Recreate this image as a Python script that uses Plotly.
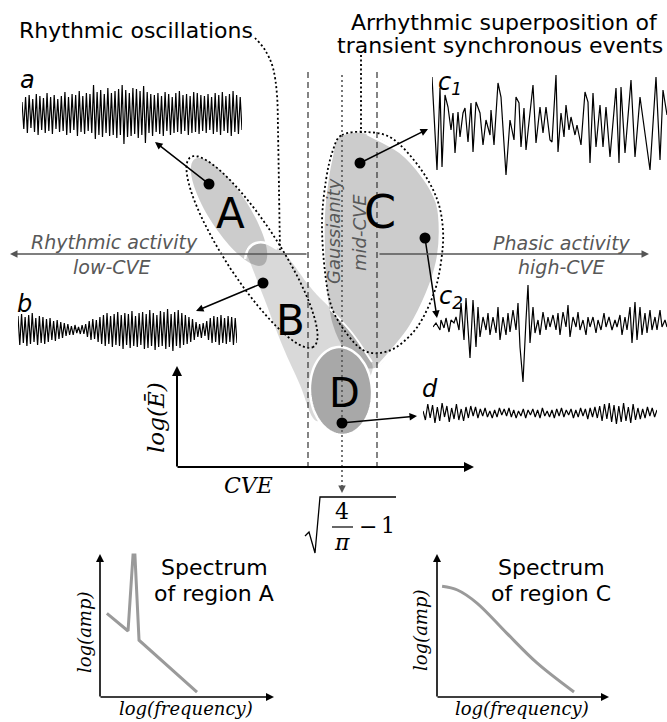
import numpy as np
import plotly.graph_objects as go

W, H = 667, 722

# ---------------- data ----------------
# (a) rhythmic trace: peak / trough amplitude of each successive cycle
a_peaks = [12, 17, 19, 15, 20, 18, 16, 21, 17, 19, 15,
           18, 22, 17, 20, 19, 23, 18, 21, 20,
           29, 22, 24, 20, 26, 21, 23, 25, 29, 24, 21, 26, 25, 23, 28, 22, 20,
           19, 21, 18, 22, 20, 17, 21, 23, 19, 20, 18, 22, 21, 19,
           18, 20, 17, 21, 19, 22, 18, 20, 23, 19, 17]
a_troughs = [15, 19, 14, 18, 21, 16, 19, 17, 20, 15, 18,
             17, 21, 19, 16, 22, 18, 20, 17, 19,
             25, 21, 23, 19, 22, 21, 24, 21, 30, 23, 22, 20, 24, 21, 29, 19, 22,
             18, 20, 22, 17, 21, 19, 18, 20, 17, 21, 19, 18, 20, 17,
             19, 16, 20, 18, 21, 17, 19, 22, 18, 20, 16]

# (b) waxing / waning rhythmic trace
b_peaks = [14, 16, 13, 15, 17, 12, 14, 13,
           11, 12, 9, 10, 8, 7, 6,
           4, 5, 3, 5, 6,
           9, 11, 10, 13,
           15, 17, 14, 16, 18, 15, 17, 16, 19, 14, 17, 18, 16, 20, 17, 15, 19, 18, 21, 16, 18, 20, 17, 15, 13, 11,
           8, 6, 7, 9,
           12, 14, 13, 15, 12, 14, 13, 12]
b_troughs = [15, 13, 16, 14, 12, 15, 13, 14,
             12, 10, 11, 9, 8, 6, 5,
             5, 3, 4, 4, 7,
             10, 9, 12, 14,
             16, 14, 17, 15, 16, 19, 15, 18, 16, 17, 15, 19, 18, 16, 20, 17, 16, 19, 17, 21, 16, 18, 15, 14, 12, 10,
             7, 8, 6, 10,
             13, 12, 15, 13, 14, 12, 15, 13]

# (c1) arrhythmic trace: sample times and values
c1_t = [0, 3, 5, 8, 10, 13, 16, 19, 21, 23, 26, 28, 31, 33, 36, 39, 41, 44, 48, 51,
        54, 58, 59, 62, 66, 69, 71, 74, 78, 80, 82, 84, 87, 89, 92, 94, 101, 104, 108, 111,
        114, 118, 120, 124, 126, 129, 132, 134, 137, 139, 143, 145, 149, 153, 156, 158, 161, 164, 168, 171,
        174, 178, 184, 187, 189, 193, 199, 203, 208, 218, 224, 228, 231, 235]
c1_v = [48, -5, -45, 37, -42, 30, 18, -5, 12, -28, 13, -12, 12, 17, -17, 22, -27, 23, 12, -20,
        5, -10, 15, -20, 42, 28, -2, -50, 5, -5, -15, 28, 22, -22, 17, -25, 40, -18, 18, -8,
        18, -15, -17, 50, -27, 12, -12, 20, -5, 8, -10, 0, -20, 33, 23, -38, 32, -22, 20, -22,
        18, -32, 37, -38, 38, -28, 45, -32, 28, -45, 48, -35, 35, 10]

# (c2) arrhythmic trace with a large transient
c2_t = [0, 3, 7, 8, 11, 13, 16, 18, 21, 23, 26, 28, 31, 33, 37, 40, 43, 45, 47, 50,
        53, 55, 57, 60, 63, 65, 67, 70, 73, 75, 77, 80, 83, 85, 87, 90, 93, 95, 97, 100,
        102, 105, 107, 110, 113, 115, 117, 120, 123, 125, 127, 130, 133, 135, 137, 140, 143, 145, 147, 150,
        153, 155, 157, 160, 163, 165, 168, 171, 173, 176, 179, 182, 184, 187, 189, 192, 194, 197, 199, 202,
        204, 207, 209, 212, 214, 217, 219, 222, 224, 227, 229, 232, 234]
c2_v = [-5, -1, -8, 2, -6, 4, -10, 2, -1, 5, -8, 19, -18, 24, -36, 22, -25, 15, -15, 5,
        -8, 9, -13, 5, -11, 15, -18, 5, -13, 9, -10, 12, -8, 19, -25, -60, 2, 37, -21, 15,
        -11, 2, -13, 10, -8, 5, -5, 7, -8, 9, -13, 10, -5, 17, -15, 5, -5, 10, -8, 2,
        -13, 5, -5, 5, -11, 2, -8, 9, -5, 5, -8, 2, -5, 7, -13, 5, -8, 15, -21, 20,
        -18, 15, -13, 9, -11, 12, -8, 5, -8, 12, -5, 2, -5]

# (d) low-energy noise trace
d_v = [2, -7, 9, -5, 8, -10, 6, -8, 10, -4, 7, -9, 5, -6, 9, -7, 4, -8, 6, -5, 7, -3, 6, -5, 4,
       -3, 5, -4, 2, -5, 3, -4, 5, -2, 4, -3, 5, -4, 3, -5, 2, -3, 4, -5, 3, -2, 4, -4, 3, -5,
       5, -3, 2, -4, 3, -5, 4, -3, 5, -4, 3, -2, 4, -5, 3, -4, 5, -3, 4, -6, 5, -4, 6, -5, 7,
       -8, 9, -6, 10, -9, 8, -11, 7, -9, 10, -8, 6, -10, 9, -7, 5,
       -6, 4, -5, 6, -3, 5, -4, 3]

# spectra (log-frequency, log-amplitude)
spec_a_logf = [0.04, 0.163, 0.192, 0.203, 0.227, 0.564]
spec_a_logamp = [0.59, 0.465, 1.0, 1.0, 0.40, 0.035]
spec_c_logf = [0.03, 0.12, 0.235, 0.41, 0.588, 0.806]
spec_c_logamp = [0.78, 0.754, 0.662, 0.45, 0.24, 0.035]

a_vals = [v for hi, lo in zip(a_peaks, a_troughs) for v in (hi, -lo)]
b_vals = [v for hi, lo in zip(b_peaks, b_troughs) for v in (hi, -lo)]

# ---------------- helpers ----------------
def ellipse_path(cx, cy, a, b, ang_deg, n=90):
    t = np.linspace(0, 2 * np.pi, n)
    ca, sa = np.cos(np.radians(ang_deg)), np.sin(np.radians(ang_deg))
    xs = cx + a * np.cos(t) * ca - b * np.sin(t) * sa
    ys = cy + a * np.cos(t) * sa + b * np.sin(t) * ca
    d = f"M{xs[0]:.1f},{ys[0]:.1f}" + "".join(f" L{x:.1f},{y:.1f}" for x, y in zip(xs[1:], ys[1:]))
    return d + " Z"


def smooth_path(pts, closed=True):
    P = np.array(pts, float)
    n = len(P)
    if closed:
        get = lambda i: P[i % n]
        segs = range(n)
    else:
        get = lambda i: P[min(max(i, 0), n - 1)]
        segs = range(n - 1)
    d = f"M{P[0][0]:.1f},{P[0][1]:.1f}"
    for i in segs:
        p0, p1, p2, p3 = get(i - 1), get(i), get(i + 1), get(i + 2)
        c1 = p1 + (p2 - p0) / 6.0
        c2 = p2 - (p3 - p1) / 6.0
        d += f" C{c1[0]:.1f},{c1[1]:.1f} {c2[0]:.1f},{c2[1]:.1f} {p2[0]:.1f},{p2[1]:.1f}"
    return d + (" Z" if closed else "")


layout = dict(
    width=W, height=H, margin=dict(l=0, r=0, t=0, b=0),
    paper_bgcolor="white", plot_bgcolor="rgba(0,0,0,0)", showlegend=False,
    xaxis=dict(domain=[0, 1], range=[0, W], visible=False, fixedrange=True),
    yaxis=dict(domain=[0, 1], range=[H, 0], visible=False, fixedrange=True),
)


def panel(k, px0, px1, xr, py0, py1, yr):
    layout[f"xaxis{k}"] = dict(domain=[px0 / W, px1 / W], range=xr, visible=False,
                               fixedrange=True, anchor=f"y{k}")
    layout[f"yaxis{k}"] = dict(domain=[1 - py1 / H, 1 - py0 / H], range=yr, visible=False,
                               fixedrange=True, anchor=f"x{k}")


panel(2, 22, 242, [0, len(a_vals) - 1], 82, 146, [-32, 32])
panel(3, 18, 237, [0, len(b_vals) - 1], 308, 352, [-22, 22])
panel(4, 432, 667, [0, 235], 73, 177, [-52, 52])
panel(5, 433, 667, [0, 234], 260, 384, [-62, 62])
panel(6, 423, 657, [0, len(d_v) - 1], 399, 427, [-14, 14])
panel(7, 100, 272, [0, 1], 548, 697, [0, 1.05])
panel(8, 437, 607, [0, 1], 548, 697, [0, 1.05])

fig = go.Figure()
trace_line = dict(color="black", width=1.2)
fig.add_trace(go.Scatter(x=list(range(len(a_vals))), y=a_vals, mode="lines", line=trace_line,
                         xaxis="x2", yaxis="y2", hoverinfo="skip"))
fig.add_trace(go.Scatter(x=list(range(len(b_vals))), y=b_vals, mode="lines", line=trace_line,
                         xaxis="x3", yaxis="y3", hoverinfo="skip"))
fig.add_trace(go.Scatter(x=c1_t, y=c1_v, mode="lines", line=trace_line,
                         xaxis="x4", yaxis="y4", hoverinfo="skip"))
fig.add_trace(go.Scatter(x=c2_t, y=c2_v, mode="lines", line=trace_line,
                         xaxis="x5", yaxis="y5", hoverinfo="skip"))
fig.add_trace(go.Scatter(x=list(range(len(d_v))), y=d_v, mode="lines", line=trace_line,
                         xaxis="x6", yaxis="y6", hoverinfo="skip"))
fig.add_trace(go.Scatter(x=spec_a_logf, y=spec_a_logamp, mode="lines",
                         line=dict(color="#9a9a9a", width=3), xaxis="x7", yaxis="y7", hoverinfo="skip"))
fig.add_trace(go.Scatter(x=spec_c_logf, y=spec_c_logamp, mode="lines",
                         line=dict(color="#9a9a9a", width=3, shape="spline"),
                         xaxis="x8", yaxis="y8", hoverinfo="skip"))

# ---------------- schematic regions ----------------
shapes = []


def add_path(d, fill=None, color=None, width=0, dash=None):
    s = dict(type="path", path=d, xref="x", yref="y", layer="below",
             line=dict(color=color or "rgba(0,0,0,0)", width=width))
    if dash:
        s["line"]["dash"] = dash
    if fill:
        s["fillcolor"] = fill
    shapes.append(s)


def add_line(x0, y0, x1, y1, color, width, dash=None):
    s = dict(type="line", x0=x0, y0=y0, x1=x1, y1=y1, xref="x", yref="y", layer="below",
             line=dict(color=color, width=width))
    if dash:
        s["line"]["dash"] = dash
    shapes.append(s)


tail_pts = [(255, 243), (270, 245), (285, 254), (307, 283), (320, 298), (334, 312), (352, 334),
            (368, 356), (372, 372), (355, 400), (325, 418), (313, 418), (300, 385), (283, 347),
            (264, 298), (250, 262), (246, 250)]
c_fill_pts = [(340, 137), (367, 134), (400, 152), (423, 177), (437, 203), (440, 232), (437, 262),
              (427, 293), (410, 327), (392, 350), (377, 367), (362, 366), (345, 350), (333, 325),
              (327, 290), (325, 250), (325, 215), (328, 185), (333, 157)]
c_dot_pts = [(342, 135), (367, 132), (393, 139), (420, 168), (437, 199), (443, 230), (441, 262),
             (434, 293), (418, 326), (398, 346), (380, 353), (363, 350), (347, 334), (332, 308),
             (325, 272), (322, 222), (326, 180), (333, 150)]

add_path(smooth_path(tail_pts), fill="rgba(0,0,0,0.15)")
add_path(ellipse_path(229, 212, 63, 20, 57), fill="rgba(0,0,0,0.2)")
add_path(smooth_path(c_fill_pts), fill="rgba(0,0,0,0.2)")
add_path(smooth_path([(245, 259), (248, 249), (256, 243), (266, 243), (277, 249)], closed=False),
         color="white", width=2.5)
add_path(smooth_path([(330, 309), (352, 333), (372, 362)], closed=False), color="white", width=2)
add_path(smooth_path(c_fill_pts[1:11], closed=False), color="white", width=2.5)
add_path(ellipse_path(341, 391, 31, 44, -4), fill="rgb(168,168,168)", color="white", width=2.5)

dotted = "2px,2.5px"
add_path(ellipse_path(252, 252, 113, 27, 57), color="black", width=1.8, dash=dotted)
add_path(smooth_path(c_dot_pts), color="black", width=1.8, dash=dotted)
add_path(smooth_path([(255, 38), (265, 50), (273, 68), (277, 95), (278, 130), (279, 190), (280, 250)],
                     closed=False), color="black", width=1.8, dash=dotted)
add_line(361, 55, 361, 133, "black", 1.8, dotted)

add_line(308, 72, 308, 467, "#333333", 1.2, "6px,4px")
add_line(377, 72, 377, 467, "#333333", 1.2, "6px,4px")
add_line(342, 75, 342, 486, "#555555", 1.6, "2px,3px")

# square-root sign of the Gaussian CVE value
add_path("M305,536 L309,532 L315,553 L320,497 L396,497", color="black", width=1.3)
add_line(332, 527, 353, 527, "black", 1.2)

layout["shapes"] = shapes

# sample points inside the regions
dot_x = [209, 263, 360, 425, 342]
dot_y = [184, 283, 163, 238, 423]
fig.add_trace(go.Scatter(x=dot_x, y=dot_y, mode="markers", xaxis="x", yaxis="y",
                         marker=dict(color="black", size=11), hoverinfo="skip"))

# ---------------- annotations ----------------
ann = []
SANS = "DejaVu Sans"
SERIF = "DejaVu Serif"


def text(x, y, s, size, color="black", family=SANS, angle=0):
    ann.append(dict(x=x, y=y, xref="x", yref="y", text=s, showarrow=False, textangle=angle,
                    font=dict(family=family, size=size, color=color),
                    xanchor="center", yanchor="middle"))


def arrow(x0, y0, x1, y1, color="black", width=1.5, size=1.0):
    ann.append(dict(x=x1, y=y1, ax=x0, ay=y0, xref="x", yref="y", axref="x", ayref="y",
                    text="", showarrow=True, arrowhead=2, arrowsize=size, arrowwidth=width,
                    arrowcolor=color, standoff=0, startstandoff=0))


# arrows from region points to the example traces
tip_x = [155, 196, 428, 437, 417]
tip_y = [142, 311, 129, 318, 416]
for x0, y0, x1, y1 in zip(dot_x, dot_y, tip_x, tip_y):
    arrow(x0, y0, x1, y1)

# activity axes
arrow(308, 254, 10, 254, color="#555555", width=1.5)
arrow(378, 254, 649, 254, color="#555555", width=1.5)
arrow(342, 484, 342, 493, color="#555555", width=1.5)

# log(E) / CVE axes
arrow(177, 468, 177, 366, width=2)
arrow(176, 467, 474, 467, width=2)
# spectrum axes
arrow(100, 698, 100, 554, width=1.6)
arrow(99, 697, 274, 697, width=1.6)
arrow(437, 698, 437, 554, width=1.6)
arrow(436, 697, 609, 697, width=1.6)

GRAY = "#585858"
text(136, 30, "Rhythmic oscillations", 22)
text(504, 22, "Arrhythmic superposition of", 22)
text(500, 45, "transient synchronous events", 22)

text(27, 80, "<i>a</i>", 24)
text(24, 304, "<i>b</i>", 24)
text(450, 83, "<i>c<sub>1</sub></i>", 24)
text(451, 297, "<i>c<sub>2</sub></i>", 24)
text(430, 389, "<i>d</i>", 24)

text(114, 242, "<i>Rhythmic activity</i>", 19, GRAY)
text(112, 267, "<i>low-CVE</i>", 19, GRAY)
text(562, 243, "<i>Phasic activity</i>", 19, GRAY)
text(561, 267, "<i>high-CVE</i>", 19, GRAY)
text(333, 231, "<i>Gaussianity</i>", 18, GRAY, angle=-90)
text(359, 233, "<i>mid-CVE</i>", 18, GRAY, angle=-90)

text(230, 213, "A", 42)
text(290, 320, "B", 42)
text(380, 212, "C", 46)
text(344, 393, "D", 40)

text(156, 418, "<i>log(Ē)</i>", 23, family=SERIF, angle=-90)
text(248, 485, "<i>CVE</i>", 22, family=SERIF)

text(342, 511, "4", 22, family=SERIF)
text(342, 542, "<i>π</i>", 22, family=SERIF)
text(368, 526, "−", 22, family=SERIF)
text(388, 525, "1", 22, family=SERIF)

text(214, 567, "Spectrum", 22)
text(214, 593, "of region A", 22)
text(551, 567, "Spectrum", 22)
text(551, 593, "of region C", 22)

text(84, 633, "<i>log(amp)</i>", 18, family=SERIF, angle=-90)
text(186, 708, "<i>log(frequency)</i>", 18, family=SERIF)
text(420, 631, "<i>log(amp)</i>", 18, family=SERIF, angle=-90)
text(522, 708, "<i>log(frequency)</i>", 18, family=SERIF)

layout["annotations"] = ann
fig.update_layout(**layout)
fig.write_html("out.html")
